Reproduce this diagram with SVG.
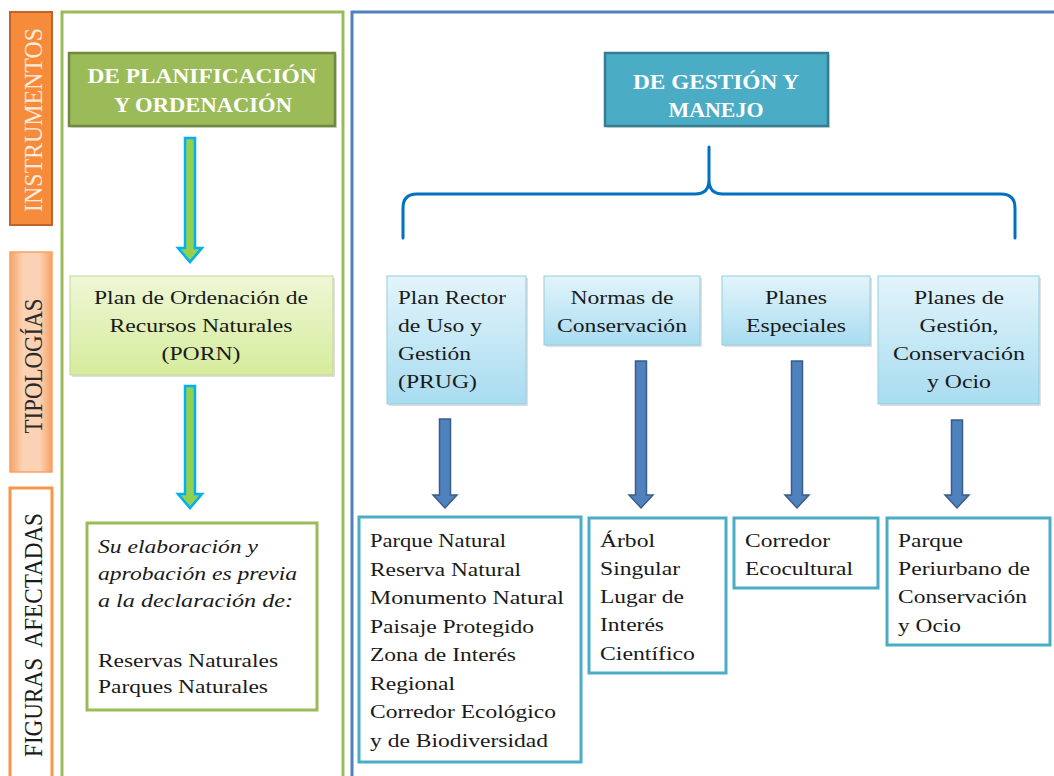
<svg xmlns="http://www.w3.org/2000/svg" width="1054" height="776" viewBox="0 0 1054 776">
<defs>
<linearGradient id="gTipo" x1="0" y1="0" x2="1" y2="0">
<stop offset="0" stop-color="#F7A266"/><stop offset="0.3" stop-color="#FBD3B4"/><stop offset="0.7" stop-color="#FBD3B4"/><stop offset="1" stop-color="#F7A266"/>
</linearGradient>
<linearGradient id="gPorn" x1="0" y1="0" x2="0" y2="1">
<stop offset="0" stop-color="#EEF7D6"/><stop offset="1" stop-color="#D6EC9C"/>
</linearGradient>
<linearGradient id="gBlue" x1="0" y1="0" x2="0" y2="1">
<stop offset="0" stop-color="#E3F4FB"/><stop offset="1" stop-color="#A8DCF0"/>
</linearGradient>
<style>
text{font-family:'Liberation Serif','Times New Roman','DejaVu Serif',serif;}
.t{font-size:19px;fill:#1a1a1a;}
.ti{font-size:19px;font-style:italic;fill:#1a1a1a;}
.h{font-size:20px;font-weight:bold;fill:#ffffff;}
.v{font-size:21.5px;white-space:pre;}
.blue{fill:url(#gBlue);stroke:#93CDDD;stroke-width:1;}
.shadow{fill:#000;opacity:0.12;}
.res{fill:#ffffff;stroke:#4BACC6;stroke-width:3;}
.garrow{fill:#92D050;stroke:#00B0F0;stroke-width:2.5;}
.barrow{fill:#4F81BD;stroke:#385D8A;stroke-width:1.5;}
</style>
</defs>
<rect x="0" y="0" width="1054" height="776" fill="#ffffff"/>

<g id="lbl-instrumentos">
<rect x="10" y="12" width="42" height="213" fill="#F68B3C" stroke="#C0652A" stroke-width="2"/>
<g transform="translate(33,120) scale(1.15,1) rotate(-90)"><text class="v" x="0" y="7.5" text-anchor="middle" fill="#FDEADA" textLength="184" lengthAdjust="spacingAndGlyphs">INSTRUMENTOS</text></g>
</g>
<g id="lbl-tipologias">
<rect x="10" y="252" width="42" height="220" fill="url(#gTipo)" stroke="#F7A266" stroke-width="1.5"/>
<g transform="translate(33,366) scale(1.15,1) rotate(-90)"><text class="v" x="0" y="7.5" text-anchor="middle" fill="#2a2a2a" textLength="135" lengthAdjust="spacingAndGlyphs">TIPOLOGÍAS</text></g>
</g>
<g id="lbl-figuras">
<rect x="10" y="488" width="42" height="300" fill="#ffffff" stroke="#F79646" stroke-width="3"/>
<g transform="translate(33,635) scale(1.15,1) rotate(-90)"><text class="v" x="0" y="7.5" text-anchor="middle" fill="#1a1a1a" textLength="244" lengthAdjust="spacingAndGlyphs">FIGURAS  AFECTADAS</text></g>
</g>

<g id="panel-planificacion">
<rect x="62" y="12" width="281" height="780" fill="none" stroke="#9BBB59" stroke-width="3"/>
</g>
<g id="panel-gestion">
<rect x="352" y="12" width="710" height="780" fill="none" stroke="#4F81BD" stroke-width="3"/>
</g>

<g id="node-planificacion">
<rect x="71" y="55" width="266" height="73" class="shadow"/>
<rect x="69" y="53" width="266" height="73" fill="#9BBB59" stroke="#71893F" stroke-width="2.5"/>
<text class="h" x="202" y="83" text-anchor="middle" textLength="229" lengthAdjust="spacingAndGlyphs">DE PLANIFICACIÓN</text>
<text class="h" x="203" y="112" text-anchor="middle" textLength="178" lengthAdjust="spacingAndGlyphs">Y ORDENACIÓN</text>
</g>
<g id="node-gestion">
<rect x="607" y="55" width="223" height="73" class="shadow"/>
<rect x="605" y="53" width="223" height="73" fill="#4BACC6" stroke="#357D91" stroke-width="2.5"/>
<text class="h" x="716" y="89" text-anchor="middle" textLength="166" lengthAdjust="spacingAndGlyphs">DE GESTIÓN Y</text>
<text class="h" x="716" y="117" text-anchor="middle" textLength="95" lengthAdjust="spacingAndGlyphs">MANEJO</text>
</g>

<g id="node-porn">
<rect x="72" y="278" width="263" height="99" class="shadow"/>
<rect x="70" y="276" width="263" height="99" fill="url(#gPorn)" stroke="#C3D69B" stroke-width="1"/>
<text class="t" x="201" y="304" text-anchor="middle" textLength="214" lengthAdjust="spacingAndGlyphs">Plan de Ordenación de</text>
<text class="t" x="201" y="332" text-anchor="middle" textLength="183" lengthAdjust="spacingAndGlyphs">Recursos Naturales</text>
<text class="t" x="201" y="360" text-anchor="middle" textLength="79" lengthAdjust="spacingAndGlyphs">(PORN)</text>
</g>
<g id="node-prug">
<rect x="389" y="278" width="139" height="128" class="shadow"/>
<rect x="387" y="276" width="139" height="128" class="blue"/>
<text class="t" x="398" y="304" textLength="108" lengthAdjust="spacingAndGlyphs">Plan Rector</text>
<text class="t" x="398" y="332" textLength="84" lengthAdjust="spacingAndGlyphs">de Uso y</text>
<text class="t" x="398" y="360" textLength="73" lengthAdjust="spacingAndGlyphs">Gestión</text>
<text class="t" x="398" y="388" textLength="79" lengthAdjust="spacingAndGlyphs">(PRUG)</text>
</g>
<g id="node-normas">
<rect x="546" y="278" width="156" height="69" class="shadow"/>
<rect x="544" y="276" width="156" height="69" class="blue"/>
<text class="t" x="622" y="304" text-anchor="middle" textLength="103" lengthAdjust="spacingAndGlyphs">Normas de</text>
<text class="t" x="622" y="332" text-anchor="middle" textLength="130" lengthAdjust="spacingAndGlyphs">Conservación</text>
</g>
<g id="node-especiales">
<rect x="724" y="278" width="148" height="69" class="shadow"/>
<rect x="722" y="276" width="148" height="69" class="blue"/>
<text class="t" x="796" y="304" text-anchor="middle" textLength="62" lengthAdjust="spacingAndGlyphs">Planes</text>
<text class="t" x="796" y="332" text-anchor="middle" textLength="100" lengthAdjust="spacingAndGlyphs">Especiales</text>
</g>
<g id="node-pgco">
<rect x="880" y="278" width="161" height="128" class="shadow"/>
<rect x="878" y="276" width="161" height="128" class="blue"/>
<text class="t" x="959" y="304" text-anchor="middle" textLength="90" lengthAdjust="spacingAndGlyphs">Planes de</text>
<text class="t" x="959" y="332" text-anchor="middle" textLength="79" lengthAdjust="spacingAndGlyphs">Gestión,</text>
<text class="t" x="959" y="360" text-anchor="middle" textLength="132" lengthAdjust="spacingAndGlyphs">Conservación</text>
<text class="t" x="959" y="388" text-anchor="middle" textLength="64" lengthAdjust="spacingAndGlyphs">y Ocio</text>
</g>

<g id="node-declaracion">
<rect x="87" y="523" width="230" height="187" fill="#ffffff" stroke="#9BBB59" stroke-width="3"/>
<text class="ti" x="98" y="553" textLength="160" lengthAdjust="spacingAndGlyphs">Su elaboración y</text>
<text class="ti" x="98" y="580" textLength="199" lengthAdjust="spacingAndGlyphs">aprobación es previa</text>
<text class="ti" x="98" y="607" textLength="195" lengthAdjust="spacingAndGlyphs">a la declaración de:</text>
<text class="t" x="98" y="667" textLength="180" lengthAdjust="spacingAndGlyphs">Reservas Naturales</text>
<text class="t" x="98" y="693" textLength="170" lengthAdjust="spacingAndGlyphs">Parques Naturales</text>
</g>
<g id="node-fig-prug">
<rect x="359" y="517" width="222" height="245" class="res"/>
<text class="t" x="370" y="547" textLength="136" lengthAdjust="spacingAndGlyphs">Parque Natural</text>
<text class="t" x="370" y="575.5" textLength="151" lengthAdjust="spacingAndGlyphs">Reserva Natural</text>
<text class="t" x="370" y="604" textLength="194" lengthAdjust="spacingAndGlyphs">Monumento Natural</text>
<text class="t" x="370" y="632.5" textLength="164" lengthAdjust="spacingAndGlyphs">Paisaje Protegido</text>
<text class="t" x="370" y="661" textLength="146" lengthAdjust="spacingAndGlyphs">Zona de Interés</text>
<text class="t" x="370" y="689.5" textLength="85" lengthAdjust="spacingAndGlyphs">Regional</text>
<text class="t" x="370" y="718" textLength="186" lengthAdjust="spacingAndGlyphs">Corredor Ecológico</text>
<text class="t" x="370" y="746.5" textLength="178" lengthAdjust="spacingAndGlyphs">y de Biodiversidad</text>
</g>
<g id="node-fig-normas">
<rect x="589" y="518" width="137" height="155" class="res"/>
<text class="t" x="600" y="547" textLength="55" lengthAdjust="spacingAndGlyphs">Árbol</text>
<text class="t" x="600" y="575" textLength="80" lengthAdjust="spacingAndGlyphs">Singular</text>
<text class="t" x="600" y="603" textLength="84" lengthAdjust="spacingAndGlyphs">Lugar de</text>
<text class="t" x="600" y="631" textLength="64" lengthAdjust="spacingAndGlyphs">Interés</text>
<text class="t" x="600" y="660" textLength="95" lengthAdjust="spacingAndGlyphs">Científico</text>
</g>
<g id="node-fig-especiales">
<rect x="734" y="518" width="144" height="70" class="res"/>
<text class="t" x="745" y="547" textLength="85" lengthAdjust="spacingAndGlyphs">Corredor</text>
<text class="t" x="745" y="575" textLength="108" lengthAdjust="spacingAndGlyphs">Ecocultural</text>
</g>
<g id="node-fig-pgco">
<rect x="887" y="518" width="163" height="127" class="res"/>
<text class="t" x="898" y="547" textLength="65" lengthAdjust="spacingAndGlyphs">Parque</text>
<text class="t" x="898" y="575" textLength="132" lengthAdjust="spacingAndGlyphs">Periurbano de</text>
<text class="t" x="898" y="603" textLength="129" lengthAdjust="spacingAndGlyphs">Conservación</text>
<text class="t" x="898" y="632" textLength="63" lengthAdjust="spacingAndGlyphs">y Ocio</text>
</g>

<g id="connectors">
<path class="garrow" d="M185,138 L195,138 L195,248 L202,248 L190,262 L178,248 L185,248 Z"/>
<path class="garrow" d="M185,386 L195,386 L195,494 L202,494 L190,508 L178,494 L185,494 Z"/>
<path d="M403,238 L403,208 Q403,194 417,194 L695,194 Q709,194 709,180 L709,147 M709,180 Q709,194 723,194 L1001,194 Q1015,194 1015,208 L1015,238" fill="none" stroke="#0070C0" stroke-width="3" stroke-linecap="round" stroke-linejoin="round"/>
<path class="barrow" d="M439.5,419 L450.5,419 L450.5,495 L457,495 L445,508 L433,495 L439.5,495 Z"/>
<path class="barrow" d="M635.5,361 L646.5,361 L646.5,495 L653,495 L641,508 L629,495 L635.5,495 Z"/>
<path class="barrow" d="M791.5,361 L802.5,361 L802.5,495 L809,495 L797,508 L785,495 L791.5,495 Z"/>
<path class="barrow" d="M951.5,420 L962.5,420 L962.5,495 L969,495 L957,508 L945,495 L951.5,495 Z"/>
</g>
</svg>
